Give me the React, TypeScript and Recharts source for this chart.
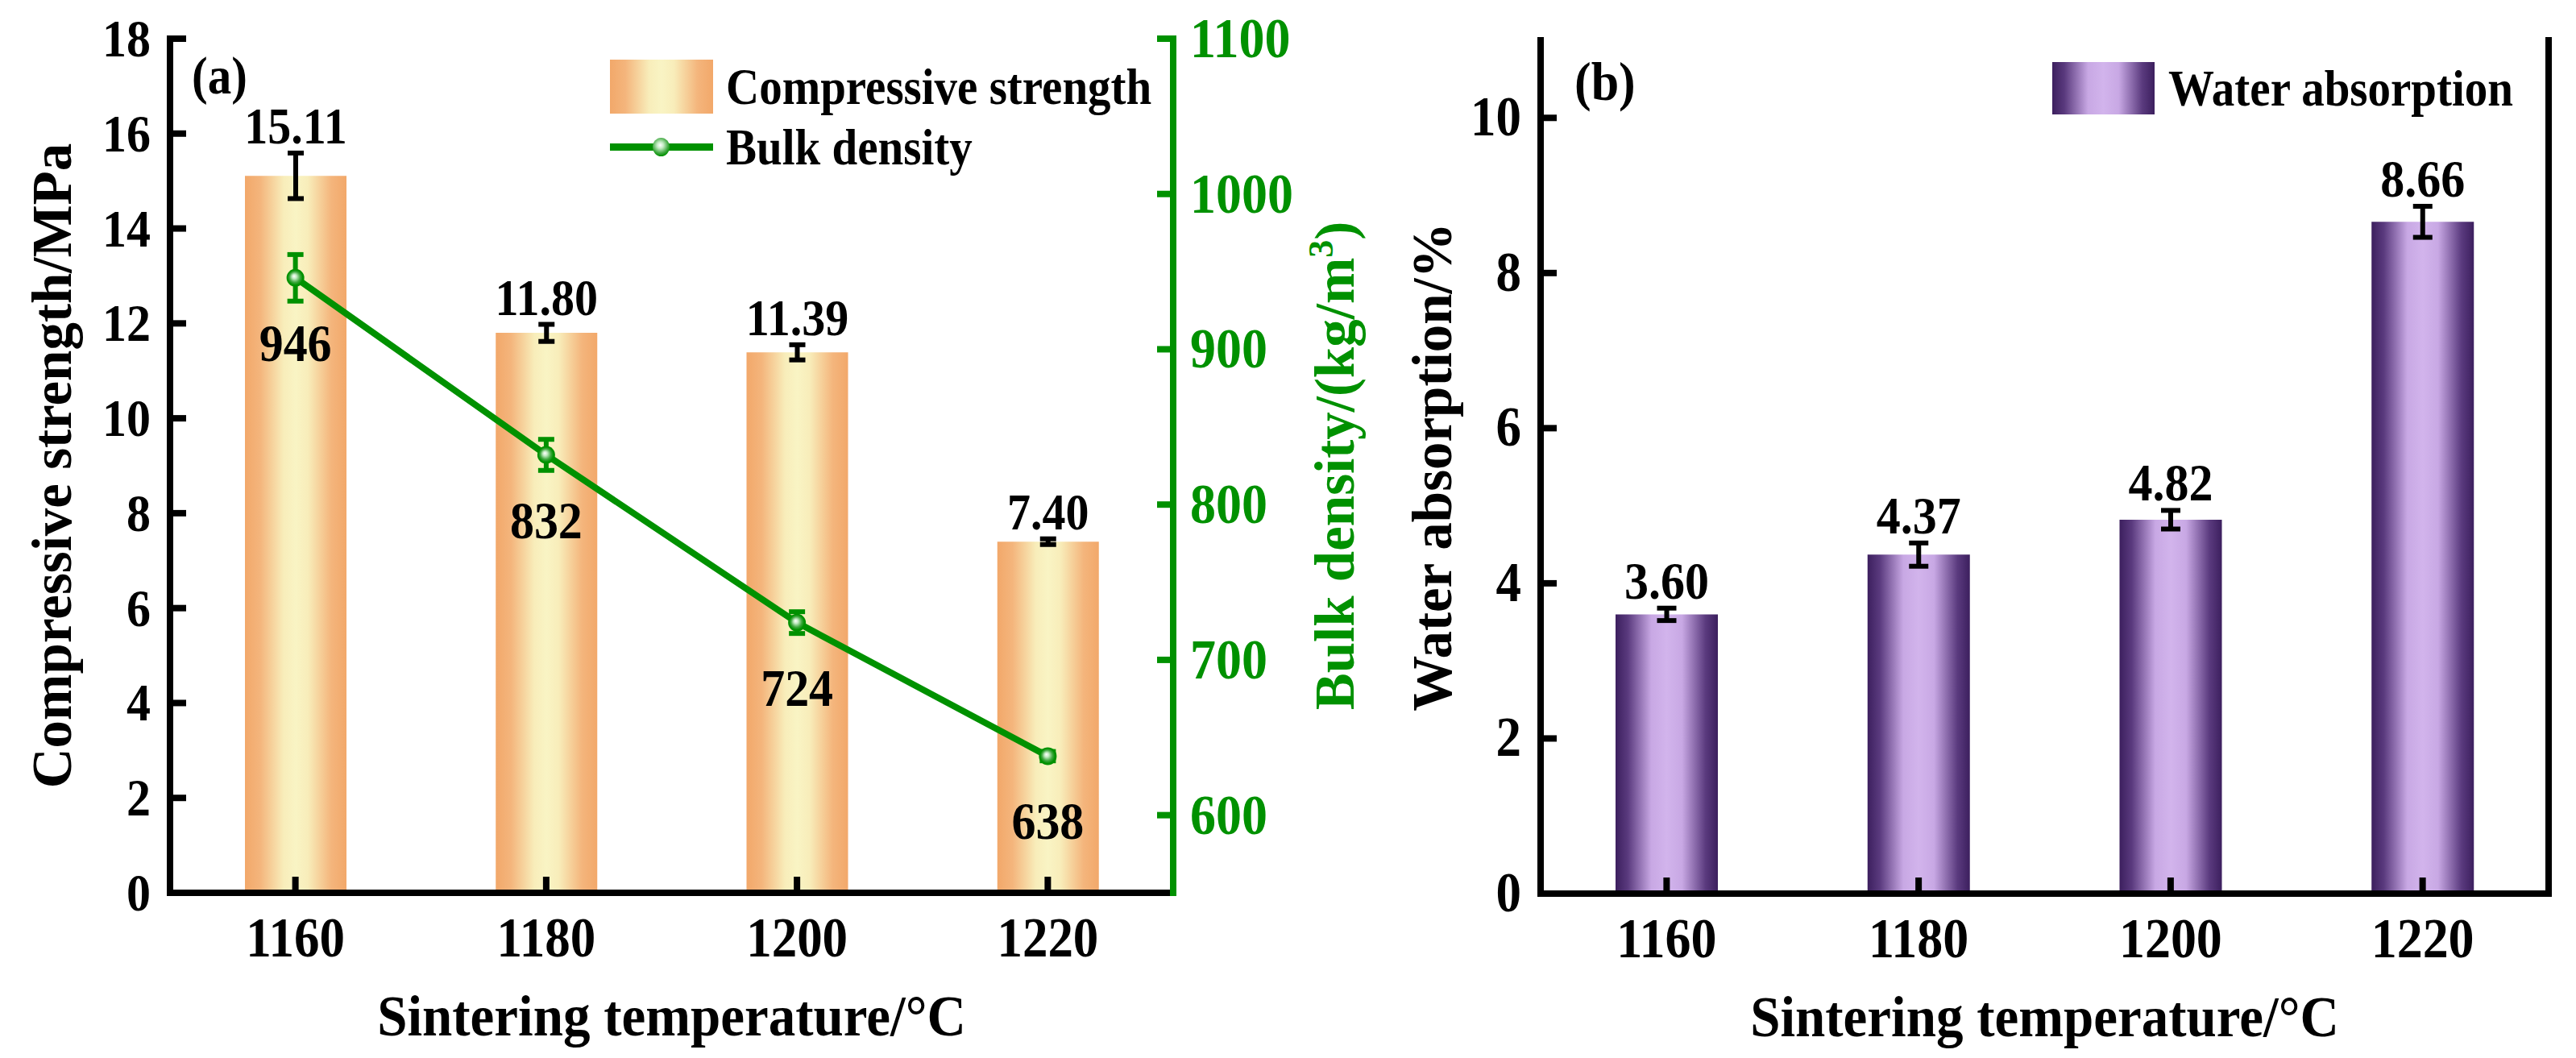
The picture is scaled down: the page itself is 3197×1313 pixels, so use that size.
import React from "react"
import {
  ComposedChart,
  BarChart,
  Bar,
  Line,
  XAxis,
  YAxis,
  ErrorBar,
  LabelList,
  Legend,
} from "recharts"

// values
const temps = ["1160", "1180", "1200", "1220"]
const strength = [15.11, 11.8, 11.39, 7.4]
const strengthErr = [0.48, 0.18, 0.16, 0.06]
const density = [946, 832, 724, 638]
const densityErr = [15, 10, 7, 3]
const absorption = [3.6, 4.37, 4.82, 8.66]
const absorptionErr = [0.08, 0.15, 0.12, 0.2]

const strengthTicks = [0, 2, 4, 6, 8, 10, 12, 14, 16, 18]
const densityTicks = [600, 700, 800, 900, 1000, 1100]
const absorptionTicks = [0, 2, 4, 6, 8, 10]

const dataA = temps.map((t, i) => ({
  temp: t,
  cs: strength[i],
  csErr: strengthErr[i],
  bd: density[i],
  bdErr: densityErr[i],
}))
const dataB = temps.map((t, i) => ({ temp: t, wa: absorption[i], waErr: absorptionErr[i] }))

const FONT = '"Liberation Serif", "Times New Roman", serif'
const GREEN = "#009100"
const K = 1.1 // the figure is stretched a little vertically

const ORANGE_CSS =
  "linear-gradient(90deg, #f2a86a 0%, #f4b57c 15%, #f8edba 38%, #f9f4c4 50%, #f8edba 62%, #f4b57c 85%, #f2a86a 100%)"
const PURPLE_CSS =
  "linear-gradient(90deg, #3c1f5e 0%, #5a3a7e 12%, #c8a8e4 35%, #d2b4ec 50%, #c8a8e4 65%, #5a3a7e 88%, #3c1f5e 100%)"

function ST({ x, y, size, anchor = "middle", fill = "#000", k = K, children }: any) {
  return (
    <text
      transform={`translate(${x} ${y}) scale(1 ${k})`}
      x={0}
      y={0}
      textAnchor={anchor}
      fontSize={size}
      fontWeight="bold"
      fontFamily={FONT}
      fill={fill}
    >
      {children}
    </text>
  )
}

const XTick = ({ x, y, payload, size }: any) => (
  <g>
    <line x1={x} x2={x} y1={y} y2={y - 20} stroke="#000" strokeWidth={8} />
    <ST x={x} y={y + 79} size={size}>
      {payload.value}
    </ST>
  </g>
)

const LeftTick = ({ x, y, payload, size }: any) => (
  <g>
    <line x1={x} x2={x + 20} y1={y} y2={y} stroke="#000" strokeWidth={8} />
    <ST x={x - 24} y={y + 22} size={size} anchor="end">
      {payload.value}
    </ST>
  </g>
)

const RightTick = ({ x, y, payload, size }: any) => (
  <g>
    <line x1={x} x2={x - 20} y1={y} y2={y} stroke={GREEN} strokeWidth={8} />
    <ST x={x + 21} y={y + 23} size={size} anchor="start" fill={GREEN}>
      {payload.value}
    </ST>
  </g>
)

const box = (props: any) => {
  const vb = props.viewBox || {}
  return {
    x: props.x ?? vb.x,
    y: props.y ?? vb.y,
    width: props.width ?? vb.width ?? 0,
    height: props.height ?? vb.height ?? 0,
  }
}

const barTopLabel = (errs: number[], size: number) => (props: any) => {
  const { x, y, width, height } = box(props)
  const v = Number(props.value)
  const perUnit = Math.abs(height) / v
  const top = y - errs[props.index] * perUnit
  return (
    <ST x={x + width / 2} y={top - 12} size={size}>
      {v.toFixed(2)}
    </ST>
  )
}

const densityLabel = (props: any) => {
  const { x, y } = box(props)
  return (
    <ST x={x} y={y + 103} size={60}>
      {props.value}
    </ST>
  )
}

const Dot = (props: any) => {
  const { cx, cy } = props
  if (cx == null || cy == null) return null
  return <circle cx={cx} cy={cy} r={11} fill="url(#dotGrad)" />
}

// x title, plus the panel tag in the top-left corner of the plot
const xTitle = (tag: string, dx: number, baseline: number, tagSize: number) => (props: any) => {
  const vb = props.viewBox
  return (
    <g>
      <ST x={vb.x + vb.width / 2} y={vb.y + 177} size={67} k={1.08}>
        Sintering temperature/°C
      </ST>
      <ST x={vb.x + dx} y={baseline} size={tagSize} anchor="start">
        {tag}
      </ST>
    </g>
  )
}

const rotTitle = (dx: number, fill: string, body: any) => (props: any) => {
  const vb = props.viewBox
  return (
    <text
      transform={`translate(${vb.x + dx} ${vb.y + vb.height / 2}) rotate(-90)`}
      textAnchor="middle"
      fontSize={69}
      fontWeight="bold"
      fontFamily={FONT}
      fill={fill}
    >
      {body}
    </text>
  )
}

const legendText: React.CSSProperties = {
  display: "inline-block",
  transform: `scaleY(${K})`,
  lineHeight: 1,
  whiteSpace: "nowrap",
}

const LegendA = (props: any) => {
  const items = [...(props.payload || [])].sort(
    (a: any, b: any) => (a.type === "line" ? 1 : 0) - (b.type === "line" ? 1 : 0)
  )
  return (
    <div style={{ fontFamily: FONT, fontWeight: "bold", fontSize: 57, color: "#000" }}>
      {items.map((it: any, i: number) => (
        <div
          key={i}
          style={{ display: "flex", alignItems: "center", height: 67, marginBottom: 8 }}
        >
          {it.type === "line" ? (
            <div style={{ position: "relative", width: 128, height: 67 }}>
              <div
                style={{ position: "absolute", left: 0, top: 29, width: 128, height: 9, background: GREEN }}
              />
              <div
                style={{
                  position: "absolute",
                  left: 53,
                  top: 22,
                  width: 21,
                  height: 23,
                  borderRadius: "50%",
                  background:
                    "radial-gradient(circle at 45% 40%, #ffffff 0%, #c4ebc4 22%, #3fa83f 55%, #009100 75%)",
                }}
              />
            </div>
          ) : (
            <div style={{ width: 128, height: 67, background: ORANGE_CSS }} />
          )}
          <span style={{ ...legendText, marginLeft: 16 }}>{it.value}</span>
        </div>
      ))}
    </div>
  )
}

const LegendB = (props: any) => {
  const items = props.payload || []
  return (
    <div style={{ fontFamily: FONT, fontWeight: "bold", fontSize: 57, color: "#000" }}>
      {items.map((it: any, i: number) => (
        <div key={i} style={{ display: "flex", alignItems: "center", height: 65 }}>
          <div style={{ width: 127, height: 65, background: PURPLE_CSS }} />
          <span style={{ ...legendText, marginLeft: 17 }}>{it.value}</span>
        </div>
      ))}
    </div>
  )
}

const frameLine = { stroke: "#000", strokeWidth: 8, strokeLinecap: "square" as const }

export default function App() {
  return (
    <div
      style={{
        position: "absolute",
        left: 0,
        top: 0,
        width: 3197,
        height: 1313,
        background: "#fff",
        overflow: "hidden",
      }}
    >
      <svg width={0} height={0} style={{ position: "absolute" }}>
        <defs>
          <linearGradient id="orangeGrad" x1="0" y1="0" x2="1" y2="0">
            <stop offset="0%" stopColor="#f2a86a" />
            <stop offset="15%" stopColor="#f4b57c" />
            <stop offset="38%" stopColor="#f8edba" />
            <stop offset="50%" stopColor="#f9f4c4" />
            <stop offset="62%" stopColor="#f8edba" />
            <stop offset="85%" stopColor="#f4b57c" />
            <stop offset="100%" stopColor="#f2a86a" />
          </linearGradient>
          <linearGradient id="purpleGrad" x1="0" y1="0" x2="1" y2="0">
            <stop offset="0%" stopColor="#3c1f5e" />
            <stop offset="12%" stopColor="#5a3a7e" />
            <stop offset="35%" stopColor="#c8a8e4" />
            <stop offset="50%" stopColor="#d2b4ec" />
            <stop offset="65%" stopColor="#c8a8e4" />
            <stop offset="88%" stopColor="#5a3a7e" />
            <stop offset="100%" stopColor="#3c1f5e" />
          </linearGradient>
          <radialGradient id="dotGrad" cx="0.5" cy="0.5" r="0.5" fx="0.42" fy="0.4">
            <stop offset="0%" stopColor="#ffffff" />
            <stop offset="25%" stopColor="#c4ebc4" />
            <stop offset="60%" stopColor="#3fa83f" />
            <stop offset="85%" stopColor={GREEN} />
          </radialGradient>
        </defs>
      </svg>

      {/* (a) compressive strength + bulk density */}
      <div style={{ position: "absolute", left: 0, top: 0 }}>
        <ComposedChart
          width={1800}
          height={1313}
          data={dataA}
          margin={{ top: 48, right: 0, bottom: 0, left: 0 }}
        >
          <XAxis
            dataKey="temp"
            height={205}
            interval={0}
            tickSize={0}
            tickMargin={0}
            tickLine={false}
            axisLine={frameLine}
            tick={<XTick size={63} />}
            label={{ content: xTitle("(a)", 27, 116, 59) }}
          />
          <XAxis
            xAxisId="top"
            dataKey="temp"
            orientation="top"
            height={0}
            tick={false}
            tickLine={false}
            axisLine={frameLine}
          />
          <YAxis
            yAxisId="cs"
            width={211}
            domain={[0, 18]}
            ticks={strengthTicks}
            interval={0}
            tickSize={0}
            tickMargin={0}
            tickLine={false}
            axisLine={frameLine}
            tick={<LeftTick size={60} />}
            label={{ content: rotTitle(88, "#000", "Compressive strength/MPa") }}
          />
          <YAxis
            yAxisId="bd"
            orientation="right"
            width={344}
            domain={[550, 1100]}
            ticks={densityTicks}
            interval={0}
            tickSize={0}
            tickMargin={0}
            tickLine={false}
            axisLine={{ stroke: GREEN, strokeWidth: 8, strokeLinecap: "square" }}
            tick={<RightTick size={64} />}
            label={{
              content: rotTitle(
                224,
                GREEN,
                <>
                  <tspan>Bulk density/(kg/m</tspan>
                  <tspan dy={-26} fontSize={44}>
                    3
                  </tspan>
                  <tspan dy={26}>)</tspan>
                </>
              ),
            }}
          />
          <Legend
            layout="vertical"
            align="center"
            verticalAlign="middle"
            content={LegendA}
            wrapperStyle={{ position: "absolute", left: 757, top: 74, width: 720 }}
          />
          <Bar
            yAxisId="cs"
            dataKey="cs"
            name="Compressive strength"
            barSize={126}
            fill="url(#orangeGrad)"
            isAnimationActive={false}
          >
            <ErrorBar dataKey="csErr" width={10} strokeWidth={6} stroke="#000" />
            <LabelList dataKey="cs" content={barTopLabel(strengthErr, 58)} />
          </Bar>
          <Line
            yAxisId="bd"
            dataKey="bd"
            name="Bulk density"
            type="linear"
            stroke={GREEN}
            strokeWidth={8}
            dot={<Dot />}
            activeDot={false}
            legendType="line"
            isAnimationActive={false}
          >
            <ErrorBar dataKey="bdErr" width={10} strokeWidth={6} stroke={GREEN} />
            <LabelList dataKey="bd" content={densityLabel} />
          </Line>
        </ComposedChart>
      </div>

      {/* (b) water absorption */}
      <div style={{ position: "absolute", left: 1700, top: 0 }}>
        <BarChart
          width={1497}
          height={1313}
          data={dataB}
          margin={{ top: 50, right: 0, bottom: 0, left: 0 }}
        >
          <XAxis
            dataKey="temp"
            height={204}
            interval={0}
            tickSize={0}
            tickMargin={0}
            tickLine={false}
            axisLine={frameLine}
            tick={<XTick size={64} />}
            label={{ content: xTitle("(b)", 42, 124, 62) }}
          />
          <XAxis
            xAxisId="top"
            dataKey="temp"
            orientation="top"
            height={0}
            tick={false}
            tickLine={false}
            axisLine={frameLine}
          />
          <YAxis
            width={212}
            domain={[0, 11]}
            ticks={absorptionTicks}
            interval={0}
            tickSize={0}
            tickMargin={0}
            tickLine={false}
            axisLine={frameLine}
            tick={<LeftTick size={63} />}
            label={{ content: rotTitle(101, "#000", "Water absorption/%") }}
          />
          <YAxis
            yAxisId="frame"
            orientation="right"
            width={34}
            domain={[0, 11]}
            tick={false}
            tickLine={false}
            axisLine={frameLine}
          />
          <Legend
            layout="vertical"
            align="center"
            verticalAlign="middle"
            content={LegendB}
            wrapperStyle={{ position: "absolute", left: 847, top: 77, width: 600 }}
          />
          <Bar
            dataKey="wa"
            name="Water absorption"
            barSize={127}
            fill="url(#purpleGrad)"
            isAnimationActive={false}
          >
            <ErrorBar dataKey="waErr" width={12} strokeWidth={6} stroke="#000" />
            <LabelList dataKey="wa" content={barTopLabel(absorptionErr, 60)} />
          </Bar>
        </BarChart>
      </div>
    </div>
  )
}
